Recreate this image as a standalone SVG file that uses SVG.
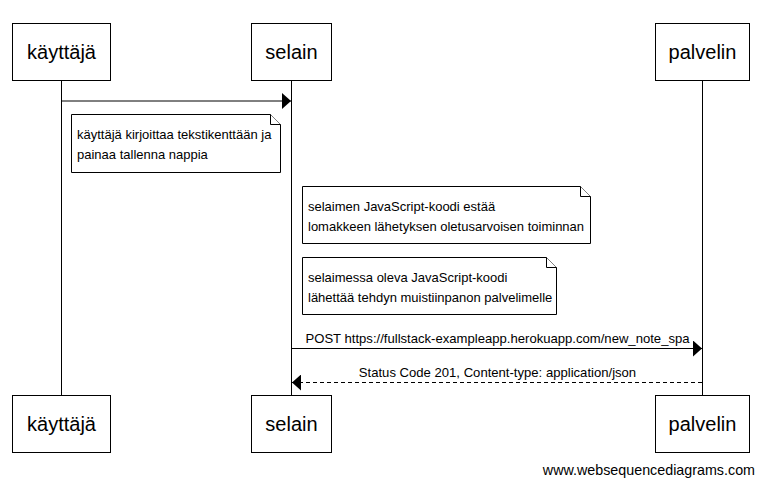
<svg xmlns="http://www.w3.org/2000/svg" width="764" height="495" viewBox="0 0 764 495">
<style>
.box{fill:#fff;stroke:#000;stroke-width:1}
.lbl{font-family:"Liberation Sans",Arial,sans-serif;font-size:20px;fill:#000;text-anchor:middle}
.note{fill:#fff;stroke:#000;stroke-width:1}
.fold{fill:#fff;stroke:#000;stroke-width:1}
.nt{font-family:"Liberation Sans",Arial,sans-serif;font-size:13px;fill:#000}
.mt{font-family:"Liberation Sans",Arial,sans-serif;font-size:13.1px;fill:#000;text-anchor:middle}
.life{stroke:#000;stroke-width:1}
.msg{stroke:#000;stroke-width:1;fill:none}
.dash{stroke-dasharray:4,3}
.wm{font-family:"Liberation Sans",Arial,sans-serif;font-size:14.3px;fill:#000;text-anchor:end}
</style>
<defs>
<marker id="ah" markerWidth="10" markerHeight="16" refX="9" refY="8" orient="auto" markerUnits="userSpaceOnUse">
<path d="M0,0 L9,8 L0,16 Z" fill="#000"/>
</marker>
</defs>
<rect width="764" height="495" fill="#fff"/>
<g id="lifelines">
<line class="life" x1="61.5" y1="81" x2="61.5" y2="395"/>
<line class="life" x1="291.5" y1="81" x2="291.5" y2="395"/>
<line class="life" x1="702.5" y1="81" x2="702.5" y2="395"/>
</g>
<g id="kayttaja">
<rect class="box" x="12.5" y="23.5" width="98" height="57"/>
<text class="lbl" x="61.5" y="59">käyttäjä</text>
<rect class="box" x="12.5" y="395.5" width="98" height="57"/>
<text class="lbl" x="61.5" y="431">käyttäjä</text>
</g>
<g id="selain">
<rect class="box" x="251.5" y="23.5" width="80" height="57"/>
<text class="lbl" x="291.5" y="59">selain</text>
<rect class="box" x="251.5" y="395.5" width="80" height="57"/>
<text class="lbl" x="291.5" y="431">selain</text>
</g>
<g id="palvelin">
<rect class="box" x="655.5" y="23.5" width="94" height="57"/>
<text class="lbl" x="702.5" y="59">palvelin</text>
<rect class="box" x="655.5" y="395.5" width="94" height="57"/>
<text class="lbl" x="702.5" y="431">palvelin</text>
</g>
<g id="connectors">
<line class="msg" x1="62" y1="101" x2="291" y2="101" marker-end="url(#ah)"/>
<line class="msg" x1="292" y1="348.5" x2="702" y2="348.5" marker-end="url(#ah)"/>
<text class="mt" x="497.5" y="343">POST https://fullstack-exampleapp.herokuapp.com/new_note_spa</text>
<line class="msg dash" x1="702" y1="382.5" x2="292" y2="382.5" marker-end="url(#ah)"/>
<text class="mt" x="497.5" y="377">Status Code 201, Content-type: application/json</text>
</g>
<g id="note1">
<path class="note" d="M71.5,114.5 H270.5 L280.5,124.5 V172.5 H71.5 Z"/>
<path class="fold" d="M270.5,114.5 V124.5 H280.5"/>
<text class="nt" x="77" y="139">käyttäjä kirjoittaa tekstikenttään ja</text>
<text class="nt" x="77" y="159">painaa tallenna nappia</text>
</g>
<g id="note2">
<path class="note" d="M302.5,186.5 H580.5 L590.5,196.5 V243.5 H302.5 Z"/>
<path class="fold" d="M580.5,186.5 V196.5 H590.5"/>
<text class="nt" x="308" y="211">selaimen JavaScript-koodi estää</text>
<text class="nt" x="308" y="231">lomakkeen lähetyksen oletusarvoisen toiminnan</text>
</g>
<g id="note3">
<path class="note" d="M302.5,257.5 H546.5 L556.5,267.5 V314.5 H302.5 Z"/>
<path class="fold" d="M546.5,257.5 V267.5 H556.5"/>
<text class="nt" x="308" y="282">selaimessa oleva JavaScript-koodi</text>
<text class="nt" x="308" y="302">lähettää tehdyn muistiinpanon palvelimelle</text>
</g>
<text class="wm" x="755" y="475">www.websequencediagrams.com</text>
</svg>
